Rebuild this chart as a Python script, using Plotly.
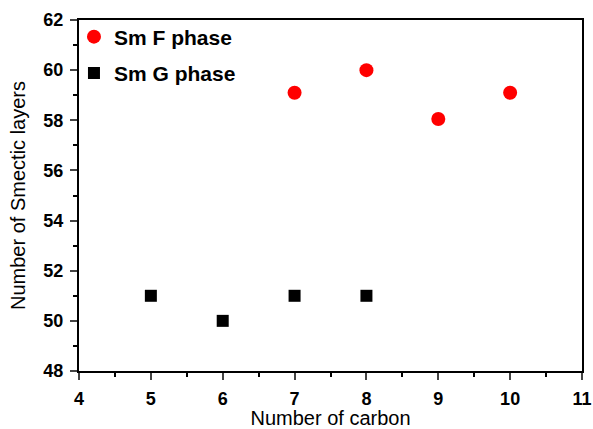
import plotly.graph_objects as go

carbon_f = [7, 8, 9, 10]
layers_f = [59.1, 60.0, 58.05, 59.1]
carbon_g = [5, 6, 7, 8]
layers_g = [51, 50, 51, 51]
x_ticks = [4, 5, 6, 7, 8, 9, 10, 11]
y_ticks = [48, 50, 52, 54, 56, 58, 60, 62]

fig = go.Figure()
fig.add_trace(go.Scatter(x=carbon_f, y=layers_f, mode="markers", name="<b>Sm F phase</b>",
                         legendgroup="f",
                         marker=dict(symbol="circle", size=14, color="#ff0000")))
fig.add_trace(go.Scatter(x=carbon_g, y=layers_g, mode="markers", name="<b>Sm G phase</b>",
                         legendgroup="g",
                         marker=dict(symbol="square", size=12, color="#000000")))

tf = dict(family="Liberation Sans", size=18, color="#000")
fig.update_layout(
    width=593, height=429,
    margin=dict(l=79, r=11, t=20, b=58),
    paper_bgcolor="white", plot_bgcolor="white",
    font=dict(family="Liberation Sans", color="#000"),
    showlegend=True,
    legend=dict(x=-0.010, y=1.01, xanchor="left", yanchor="top",
                bgcolor="rgba(0,0,0,0)", font=dict(family="Liberation Sans", size=21, color="#000"),
                tracegroupgap=6, itemwidth=30, traceorder="grouped"),
)
fig.update_xaxes(range=[4, 11], tickvals=x_ticks, ticktext=[f"<b>{v}</b>" for v in x_ticks],
                 ticks="outside", ticklen=7, tickwidth=2, ticklabelstandoff=3,
                 showline=True, linewidth=2, linecolor="#000", mirror=True, automargin=False,
                 showgrid=False, zeroline=False, tickfont=tf,
                 minor=dict(dtick=0.5, tick0=4, ticks="outside", ticklen=4, tickwidth=2, tickcolor="#000", showgrid=False),
                 title=dict(text="Number of carbon", font=dict(family="Liberation Sans", size=20), standoff=5))
fig.update_yaxes(range=[48, 62], tickvals=y_ticks, ticktext=[f"<b>{v}</b>" for v in y_ticks],
                 ticks="outside", ticklen=7, tickwidth=2, ticklabelstandoff=3,
                 showline=True, linewidth=2, linecolor="#000", mirror=True, automargin=False,
                 showgrid=False, zeroline=False, tickfont=tf,
                 minor=dict(dtick=1, tick0=48, ticks="outside", ticklen=4, tickwidth=2, tickcolor="#000", showgrid=False),
                 title=dict(text="Number of Smectic layers", font=dict(family="Liberation Sans", size=20), standoff=12))

fig.write_html("out.html")
